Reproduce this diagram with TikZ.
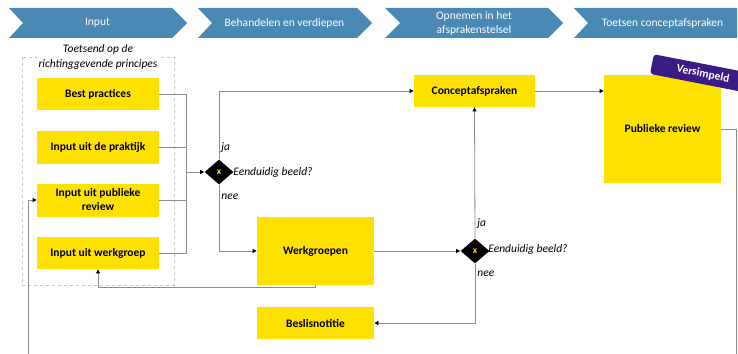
\documentclass[tikz,border=0pt]{standalone}
\usepackage{fontspec}
\setmainfont{Carlito}
\usetikzlibrary{arrows.meta}
\usetikzlibrary{shapes.geometric}
\definecolor{bannerblue}{HTML}{4A89B4}
\definecolor{boxyellow}{HTML}{FFE100}
\definecolor{tagpurple}{HTML}{3B1C84}
\definecolor{linegray}{HTML}{8C8C8C}

\begin{document}
\begin{tikzpicture}[x=1pt, y=-1pt, line width=0.8pt,
    phase/.style={text=white, align=center, font=\fontsize{11.5}{14}\selectfont},
    box/.style={fill=boxyellow, align=center, inner sep=0pt, font=\fontsize{11.5}{14}\selectfont\bfseries},
    gate/.style={diamond, fill=black, minimum width=29pt, minimum height=25pt, inner sep=0pt, text=boxyellow, font=\fontsize{9.5}{9.5}\selectfont\bfseries},
    lbl/.style={inner sep=0pt, font=\fontsize{11.5}{15}\selectfont\itshape},
    flow/.style={draw=linegray, -{Triangle[length=4pt, width=4pt, color=black]}},
    link/.style={draw=linegray}]

    \useasboundingbox (0,0) rectangle (738,353);
    \clip (0,0) rectangle (738,353);

    % phases
    \foreach \xa/\xn/\xb/\xt/\txt [count=\i] in {9/23/172/187/Input, 198/212/357/372/Behandelen en verdiepen, 385/400/548/563/{Opnemen in het\\afsprakenstelsel}, 574/588/737/737/Toetsen conceptafspraken} {
        \fill[bannerblue] (\xa,8) -- (\xb,8) -- (\xt,23) -- (\xb,38) -- (\xa,38) -- (\xn,23) -- cycle;
        \node[phase] (ph\i) at ({(\xn+\xb)/2},23) {\txt};
    }

    % input
    \draw[dashed, draw=gray!45] (22,57) rectangle (174,285);
    \node[lbl, fill=white, align=center, inner sep=2pt] (principes) at (98,57) {Toetsend op de\\richtinggevende principes};

    \node[box, minimum width=122pt, minimum height=32pt] (bp) at (98,94) {Best practices};
    \node[box, minimum width=122pt, minimum height=33pt] (prak) at (98,147) {Input uit de praktijk};
    \node[box, minimum width=122pt, minimum height=33pt] (ipr) at (98,200) {Input uit publieke\\review};
    \node[box, minimum width=122pt, minimum height=32pt] (iwg) at (98,253) {Input uit werkgroep};

    \node[gate] (g1) at (219,172) {x};
    \node[lbl, anchor=west] (ja1) at (221,148) {ja};
    \node[lbl, anchor=west] (vraag1) at (233,172) {Eenduidig beeld?};
    \node[lbl, anchor=west] (nee1) at (221,197) {nee};

    \node[box, minimum width=121pt, minimum height=32pt] (ca) at (474.5,91) {Conceptafspraken};
    \node[box, minimum width=117pt, minimum height=68pt] (wg) at (315.5,251) {Werkgroepen};
    \node[box, minimum width=117pt, minimum height=32pt] (bn) at (315.5,323) {Beslisnotitie};
    \node[box, minimum width=117pt, minimum height=108pt] (pr) at (662.5,129) {Publieke review};
    \node[fill=tagpurple, text=white, rotate=-11, rounded corners=3pt, minimum width=104pt, minimum height=20pt, font=\fontsize{11.5}{13}\selectfont\bfseries] (tag) at (703,74) {Versimpeld};

    \node[gate] (g2) at (475,251) {x};
    \node[lbl, anchor=west] (ja2) at (477,224) {ja};
    \node[lbl, anchor=west] (vraag2) at (488,249) {Eenduidig beeld?};
    \node[lbl, anchor=west] (nee2) at (477,274) {nee};

    \coordinate (j1) at (186,172);
    \coordinate (uit) at (736,360);
    \coordinate (terug) at (28,360);

    \draw[link] (bp.east) -| (j1);
    \draw[link] (prak.east) -| (j1);
    \draw[link] (ipr.east) -| (j1);
    \draw[link] (iwg.east) -| (j1);
    \draw[flow] (j1) -- (g1.west);
    \draw[flow] (g1.north) |- (ca.west);
    \draw[flow] (g1.south) |- (wg.west);
    \draw[flow] (ca.east) -- (pr.west |- ca.east);
    \draw[flow] (wg.east) -- (g2.west);
    \draw[flow] (g2.north) -- (ca.south);
    \draw[flow] (g2.south) |- (bn.east);
    \draw[flow] (wg.south) -- ++(0,2) -| (iwg.south);
    \draw[link] (pr.east) -| (uit);
    \draw[flow] (terug) |- (ipr.west);

\end{tikzpicture}
\end{document}
